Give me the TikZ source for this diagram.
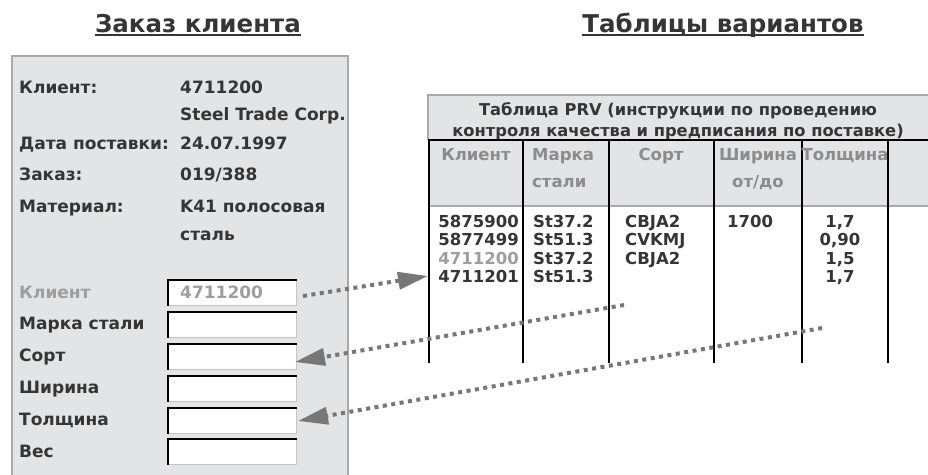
\documentclass[tikz,border=0pt]{standalone}
\usepackage{fontspec}
\setmainfont{DejaVu Sans}
\usetikzlibrary{arrows.meta}
\definecolor{txt}{HTML}{353535}
\definecolor{lgt}{HTML}{9E9E9E}
\definecolor{hdr}{HTML}{8C8C8C}
\definecolor{panel}{HTML}{E3E4E6}
\definecolor{pborder}{HTML}{A9A9A9}
\definecolor{arr}{HTML}{777777}
\definecolor{boxedge}{HTML}{C4C4C4}
\begin{document}
\begin{tikzpicture}[x=1pt,y=-1pt,
  ttl/.style={anchor=base, inner sep=0pt, font=\bfseries\fontsize{24.5}{28}\selectfont, text=txt},
  lbl/.style={anchor=base west, inner sep=0pt, font=\bfseries\fontsize{17}{20}\selectfont, text=txt},
  glbl/.style={lbl, text=lgt},
  thd/.style={anchor=base, inner sep=0pt, font=\bfseries\fontsize{16.3}{18}\selectfont, text=txt},
  hd/.style={inner sep=0pt, font=\bfseries\fontsize{16.5}{18}\selectfont, text=hdr},
  dat/.style={inner sep=0pt, font=\bfseries\fontsize{16.5}{18}\selectfont, text=txt},
  fieldbox/.style={draw=boxedge, line width=1, fill=white, minimum width=128, minimum height=25, anchor=north west, inner sep=0pt},
  dotarrow/.style={draw=arr, line width=4, dash pattern=on 4 off 4.5, -{Triangle[length=30pt,width=17pt]}},
  colline/.style={black, line width=1.5}
]
\useasboundingbox (0,0) rectangle (928,474);

% titles
\node[ttl] (t1) at (198,32) {Заказ клиента};
\draw[txt, line width=1.8] ([yshift=-3pt]t1.base west) -- ([yshift=-3pt]t1.base east);
\node[ttl] (t2) at (723,32) {Таблицы вариантов};
\draw[txt, line width=1.8] ([yshift=-3pt]t2.base west) -- ([yshift=-3pt]t2.base east);

% left panel
\fill[panel] (12,56) rectangle (348,476);
\draw[pborder, line width=2] (12,476) -- (12,56) -- (348,56) -- (348,476);

\node[lbl] (l1) at (19,93) {Клиент:};
\node[lbl] (v1) at (180,93) {4711200};
\node[lbl] (v1b) at (180,120) {Steel Trade Corp.};
\node[lbl] (l2) at (19,149) {Дата поставки:};
\node[lbl] (v2) at (180,149) {24.07.1997};
\node[lbl] (l3) at (19,180) {Заказ:};
\node[lbl] (v3) at (180,180) {019/388};
\node[lbl] (l4) at (19,212) {Материал:};
\node[lbl] (v4) at (180,212) {K41 полосовая};
\node[lbl] (v4b) at (180,240) {сталь};

\node[glbl] (f1) at (19,298) {Клиент};
\node[lbl] (f2) at (19,329) {Марка стали};
\node[lbl] (f3) at (19,361) {Сорт};
\node[lbl] (f4) at (19,393) {Ширина};
\node[lbl] (f5) at (19,425) {Толщина};
\node[lbl] (f6) at (19,457) {Вес};

\node[fieldbox] (b1) at (168,280) {};
\node[fieldbox] (b2) at (168,312) {};
\node[fieldbox] (b3) at (168,344) {};
\node[fieldbox] (b4) at (168,376) {};
\node[fieldbox] (b5) at (168,408) {};
\node[fieldbox] (b6) at (168,439) {};
\foreach \n in {b1,b2,b3,b4,b5,b6}
  \draw[black, line width=1.6] (\n.south west) -- (\n.north west) -- (\n.north east);
\node[glbl] (b1t) at (180,298) {4711200};

% table
\fill[panel] (428,95) rectangle (928,206);
\draw[pborder, line width=1.5] (428,140) -- (428,95) -- (928,95);
\node[thd] (tt1) at (678,115) {Таблица PRV (инструкции по проведению};
\node[thd] (tt2) at (678,136) {контроля качества и предписания по поставке)};
\draw[black, line width=2] (428,140) -- (928,140);
\draw[pborder, line width=2] (429,206) -- (928,206);
\foreach \x in {429,523,609,714,802,888}
  \draw[colline] (\x,140) -- (\x,363);

\node[hd, anchor=base] (h1) at (476,160) {Клиент};
\node[hd, anchor=base west] (h2) at (532,160) {Марка};
\node[hd, anchor=base west] (h2b) at (532,187) {стали};
\node[hd, anchor=base] (h3) at (661,160) {Сорт};
\node[hd, anchor=base] (h4) at (758,160) {Ширина};
\node[hd, anchor=base] (h4b) at (758,187) {от/до};
\node[hd, anchor=base] (h5) at (845,160) {Толщина};

\node[dat, anchor=base east] (c11) at (519,227) {5875900};
\node[dat, anchor=base east] (c12) at (519,245) {5877499};
\node[dat, anchor=base east, text=lgt] (c13) at (519,264) {4711200};
\node[dat, anchor=base east] (c14) at (519,282) {4711201};
\node[dat, anchor=base west] (c21) at (533,227) {St37.2};
\node[dat, anchor=base west] (c22) at (533,245) {St51.3};
\node[dat, anchor=base west] (c23) at (533,264) {St37.2};
\node[dat, anchor=base west] (c24) at (533,282) {St51.3};
\node[dat, anchor=base west] (c31) at (625,227) {CBJA2};
\node[dat, anchor=base west] (c32) at (625,245) {CVKMJ};
\node[dat, anchor=base west] (c33) at (625,264) {CBJA2};
\node[dat, anchor=base west] (c41) at (727,227) {1700};
\node[dat, anchor=base] (c51) at (840,227) {1,7};
\node[dat, anchor=base] (c52) at (840,245) {0,90};
\node[dat, anchor=base] (c53) at (840,264) {1,5};
\node[dat, anchor=base] (c54) at (840,282) {1,7};

% arrows
\coordinate (a1s) at (303,296);
\coordinate (a1e) at (428,276);
\coordinate (a2s) at (624,305);
\coordinate (a2e) at (295,362);
\coordinate (a3s) at (822,328);
\coordinate (a3e) at (298,421);
\draw[dotarrow] (a1s) -- (a1e);
\draw[dotarrow] (a2s) -- (a2e);
\draw[dotarrow] (a3s) -- (a3e);
\end{tikzpicture}
\end{document}
